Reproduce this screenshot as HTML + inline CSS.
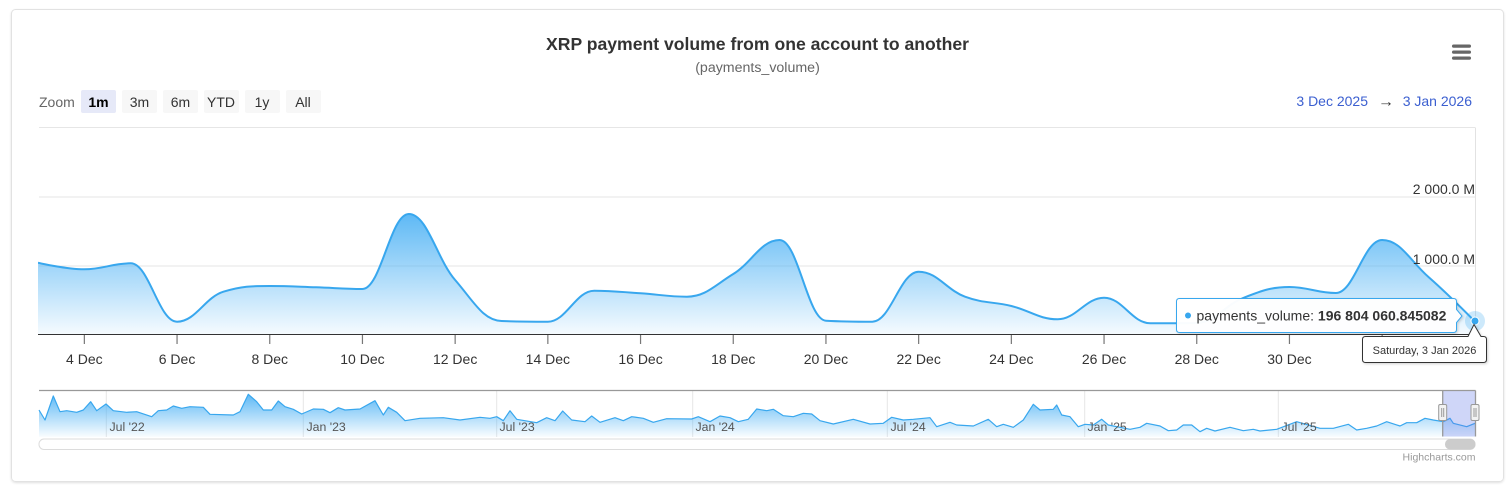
<!DOCTYPE html>
<html><head><meta charset="utf-8"><style>
html,body{margin:0;padding:0;background:#fff;width:1512px;height:493px;overflow:hidden}
svg{position:absolute;left:0;top:0;font-family:"Liberation Sans",Arial,sans-serif}
</style></head><body>
<svg width="1512" height="493" viewBox="0 0 1512 493" xmlns="http://www.w3.org/2000/svg">
<defs>
<linearGradient id="g1" x1="0" y1="0" x2="0" y2="1">
<stop offset="0" stop-color="#4cb1f4" stop-opacity="0.9"/>
<stop offset="1" stop-color="#4cb1f4" stop-opacity="0.05"/>
</linearGradient>
<linearGradient id="g2" x1="0" y1="0" x2="0" y2="1">
<stop offset="0" stop-color="#4cb1f4" stop-opacity="0.9"/>
<stop offset="1" stop-color="#4cb1f4" stop-opacity="0.03"/>
</linearGradient>
<filter id="sh" x="-10%" y="-30%" width="120%" height="170%"><feDropShadow dx="1" dy="1" stdDeviation="1.2" flood-color="#000" flood-opacity="0.18"/></filter>
<filter id="cs" x="-2%" y="-2%" width="104%" height="104%"><feDropShadow dx="0" dy="1" stdDeviation="1" flood-color="#000" flood-opacity="0.12"/></filter>
<clipPath id="pc"><rect x="38" y="120" width="1437.5" height="215"/></clipPath>
</defs>

<!-- card -->
<rect x="11.5" y="9.5" width="1492" height="472" rx="4" fill="#fff" stroke="#e2e2e2" filter="url(#cs)"/>

<!-- title -->
<text x="757.5" y="50" text-anchor="middle" font-size="17.6" font-weight="bold" fill="#333">XRP payment volume from one account to another</text>
<text x="757.5" y="72" text-anchor="middle" font-size="14.2" fill="#666">(payments_volume)</text>

<!-- menu -->
<rect x="1452" y="44.5" width="19" height="3.2" rx="1.6" fill="#666"/>
<rect x="1452" y="50.5" width="19" height="3.2" rx="1.6" fill="#666"/>
<rect x="1452" y="56.5" width="19" height="3.2" rx="1.6" fill="#666"/>

<!-- range selector -->
<text x="39" y="107" font-size="14" fill="#666">Zoom</text>
<rect x="81" y="90" width="35" height="23" rx="2" fill="#e6e9f8"/>
<text x="98.5" y="107" text-anchor="middle" font-size="14" font-weight="bold" fill="#000">1m</text>
<rect x="122" y="90" width="35" height="23" rx="2" fill="#f7f7f7"/>
<text x="139.5" y="107" text-anchor="middle" font-size="14" fill="#333">3m</text>
<rect x="163" y="90" width="35" height="23" rx="2" fill="#f7f7f7"/>
<text x="180.5" y="107" text-anchor="middle" font-size="14" fill="#333">6m</text>
<rect x="204" y="90" width="35" height="23" rx="2" fill="#f7f7f7"/>
<text x="221" y="107" text-anchor="middle" font-size="14" fill="#333">YTD</text>
<rect x="245" y="90" width="35" height="23" rx="2" fill="#f7f7f7"/>
<text x="262" y="107" text-anchor="middle" font-size="14" fill="#333">1y</text>
<rect x="286" y="90" width="35" height="23" rx="2" fill="#f7f7f7"/>
<text x="303" y="107" text-anchor="middle" font-size="14" fill="#333">All</text>

<text x="1368" y="106" text-anchor="end" font-size="14" fill="#3b5fd0">3 Dec 2025</text>
<text x="1386" y="106.5" text-anchor="middle" font-size="16" fill="#333">→</text>
<text x="1472" y="106" text-anchor="end" font-size="14" fill="#3b5fd0">3 Jan 2026</text>

<!-- plot frame & grid -->
<line x1="39" y1="127.5" x2="1475" y2="127.5" stroke="#e6e6e6"/>
<line x1="1475.5" y1="127.5" x2="1475.5" y2="334" stroke="#e2e2e2"/>
<line x1="39" y1="197" x2="1475" y2="197" stroke="#e6e6e6"/>
<line x1="39" y1="266" x2="1475" y2="266" stroke="#e6e6e6"/>

<!-- series -->
<g clip-path="url(#pc)">
<path fill="url(#g1)" d="M38 262.7 C38 262.7 65.81 269.3 84.35 269.3 C102.89 269.3 112.16 263.3 130.7 263.3 C149.24 263.3 158.51 321.7 177.05 321.7 C195.59 321.7 204.86 297.4 223.4 291.7 C241.94 286 251.21 286 269.75 286 C288.29 286 297.56 286.7 316.1 287.3 C334.64 287.9 343.91 289 362.45 289 C380.99 289 390.26 214 408.8 214 C427.34 214 436.61 258.6 455.15 280 C473.69 301.4 482.96 320.3 501.5 321 C520.04 321.7 529.31 321.7 547.85 321.7 C566.39 321.7 575.66 290.7 594.2 290.7 C612.74 290.7 622.01 292.1 640.55 293.3 C659.09 294.5 668.36 296.7 686.9 296.7 C705.44 296.7 714.71 285.34 733.25 274 C751.79 262.66 761.06 240 779.6 240 C798.14 240 807.41 319.7 825.95 320.7 C844.49 321.7 853.76 321.7 872.3 321.7 C890.84 321.7 900.11 271.7 918.65 271.7 C937.19 271.7 946.46 289.84 965 296.7 C983.54 303.56 992.81 301.48 1011.35 306 C1029.89 310.52 1039.16 319.3 1057.7 319.3 C1076.24 319.3 1085.51 297.7 1104.05 297.7 C1122.59 297.7 1131.86 323.3 1150.4 323.3 C1168.94 323.3 1178.21 323.3 1196.75 323 C1215.29 322.7 1224.56 305.2 1243.1 298 C1261.64 290.8 1270.91 287 1289.45 287 C1307.99 287 1317.26 293 1335.8 293 C1354.34 293 1363.61 240 1382.15 240 C1400.69 240 1409.96 260.72 1428.5 277 C1447.04 293.28 1474.85 321.4 1474.85 321.4 L1474.85 335 L38 335 Z"/>
<path fill="none" stroke="#38a7ee" stroke-width="2" stroke-linejoin="round" d="M38 262.7 C38 262.7 65.81 269.3 84.35 269.3 C102.89 269.3 112.16 263.3 130.7 263.3 C149.24 263.3 158.51 321.7 177.05 321.7 C195.59 321.7 204.86 297.4 223.4 291.7 C241.94 286 251.21 286 269.75 286 C288.29 286 297.56 286.7 316.1 287.3 C334.64 287.9 343.91 289 362.45 289 C380.99 289 390.26 214 408.8 214 C427.34 214 436.61 258.6 455.15 280 C473.69 301.4 482.96 320.3 501.5 321 C520.04 321.7 529.31 321.7 547.85 321.7 C566.39 321.7 575.66 290.7 594.2 290.7 C612.74 290.7 622.01 292.1 640.55 293.3 C659.09 294.5 668.36 296.7 686.9 296.7 C705.44 296.7 714.71 285.34 733.25 274 C751.79 262.66 761.06 240 779.6 240 C798.14 240 807.41 319.7 825.95 320.7 C844.49 321.7 853.76 321.7 872.3 321.7 C890.84 321.7 900.11 271.7 918.65 271.7 C937.19 271.7 946.46 289.84 965 296.7 C983.54 303.56 992.81 301.48 1011.35 306 C1029.89 310.52 1039.16 319.3 1057.7 319.3 C1076.24 319.3 1085.51 297.7 1104.05 297.7 C1122.59 297.7 1131.86 323.3 1150.4 323.3 C1168.94 323.3 1178.21 323.3 1196.75 323 C1215.29 322.7 1224.56 305.2 1243.1 298 C1261.64 290.8 1270.91 287 1289.45 287 C1307.99 287 1317.26 293 1335.8 293 C1354.34 293 1363.61 240 1382.15 240 C1400.69 240 1409.96 260.72 1428.5 277 C1447.04 293.28 1474.85 321.4 1474.85 321.4"/>
</g>

<!-- y labels -->
<text x="1475" y="194" text-anchor="end" font-size="14" fill="#333">2 000.0 M</text>
<text x="1475" y="264" text-anchor="end" font-size="14" fill="#333">1 000.0 M</text>

<!-- x axis -->
<line x1="38" y1="334.5" x2="1475" y2="334.5" stroke="#333"/>
<g stroke="#777" stroke-width="1.2">
<line x1="84.35" y1="335" x2="84.35" y2="344"/><line x1="177.05" y1="335" x2="177.05" y2="344"/>
<line x1="269.75" y1="335" x2="269.75" y2="344"/><line x1="362.45" y1="335" x2="362.45" y2="344"/>
<line x1="455.15" y1="335" x2="455.15" y2="344"/><line x1="547.85" y1="335" x2="547.85" y2="344"/>
<line x1="640.55" y1="335" x2="640.55" y2="344"/><line x1="733.25" y1="335" x2="733.25" y2="344"/>
<line x1="825.95" y1="335" x2="825.95" y2="344"/><line x1="918.65" y1="335" x2="918.65" y2="344"/>
<line x1="1011.35" y1="335" x2="1011.35" y2="344"/><line x1="1104.05" y1="335" x2="1104.05" y2="344"/>
<line x1="1196.75" y1="335" x2="1196.75" y2="344"/><line x1="1289.45" y1="335" x2="1289.45" y2="344"/>
<line x1="1382.15" y1="335" x2="1382.15" y2="344"/>
</g>
<g font-size="14" fill="#333" text-anchor="middle">
<text x="84.35" y="364">4 Dec</text><text x="177.05" y="364">6 Dec</text><text x="269.75" y="364">8 Dec</text>
<text x="362.45" y="364">10 Dec</text><text x="455.15" y="364">12 Dec</text><text x="547.85" y="364">14 Dec</text>
<text x="640.55" y="364">16 Dec</text><text x="733.25" y="364">18 Dec</text><text x="825.95" y="364">20 Dec</text>
<text x="918.65" y="364">22 Dec</text><text x="1011.35" y="364">24 Dec</text><text x="1104.05" y="364">26 Dec</text>
<text x="1196.75" y="364">28 Dec</text><text x="1289.45" y="364">30 Dec</text>
</g>

<!-- navigator -->
<g stroke="#e6e6e6">
<line x1="106.3" y1="390" x2="106.3" y2="437"/><line x1="303.3" y1="390" x2="303.3" y2="437"/>
<line x1="496.7" y1="390" x2="496.7" y2="437"/><line x1="692.7" y1="390" x2="692.7" y2="437"/>
<line x1="887.3" y1="390" x2="887.3" y2="437"/><line x1="1084.7" y1="390" x2="1084.7" y2="437"/>
<line x1="1278.3" y1="390" x2="1278.3" y2="437"/>
</g>
<path fill="url(#g2)" d="M39 437 L39,410 45,420 53.3,396 60,411.7 66.7,410.7 76.7,412.3 83.3,410 90.7,401.7 96.7,410.7 106,404 113.3,410.7 126.7,412.3 136.7,411.7 151.7,416.7 158.3,410.7 166.7,410 173.3,406 181.7,408.3 190,406.7 203.3,407.3 210,414.3 233.3,415 240,411.7 248.3,394.3 256.7,401.7 263.3,410 271.7,410 278.3,401 285,406.7 293.3,409.3 301.7,414 313.3,409 323.3,409.3 330,412.7 338.3,407.7 345,410 360,409 375,400.7 383.3,415 388.3,407.3 396.7,412.3 405,420.7 420,418.3 443.3,417.7 460,420 480,417.3 490,418.3 496.7,416.7 503.3,420.7 510,410.7 516.7,419.3 536.7,422.7 546.7,417.7 555,420.7 562.7,411 571.7,420 585,421.7 591.7,416 600,422.3 615,417.7 623.3,420.7 631.7,416.7 643.3,418.3 653.3,422.3 666.7,418.7 691.7,419 698.3,416.7 710,421.7 720,416 730,417.7 738.3,421.7 748.3,419.3 756.7,409 766.7,410.7 773.3,409.3 783.3,415.7 793.3,416.7 803.3,413.3 811.7,414 820,420.7 833.3,424 853.3,419.3 870,424 883.3,423.3 891.7,417.3 903.3,420 913.3,419.3 930,417.7 936.7,426.7 950,422.3 956.7,425 973.3,426 988.3,419.3 996.7,426.7 1003.3,424.3 1013.3,427.3 1023.3,420 1033.3,404.3 1040,410 1053.3,409.3 1056.7,405 1061.7,415 1070,416.7 1078.3,426.7 1085,424.3 1093.3,425 1101.7,419.3 1108.3,425 1130,429.3 1140,427.3 1146.7,423.3 1160,426 1168.3,430.7 1176.7,430 1183.3,425 1191.7,425 1200,431.7 1206.7,428.3 1215,431 1230,427.3 1243.3,430.7 1253.3,429.3 1260,431 1276.7,429.3 1296.7,421.7 1320,428.3 1333.3,428.3 1348.3,424.3 1356.7,430 1366.7,428.3 1376.7,426 1386.7,421.7 1400,426 1406.7,422.7 1416.7,422.7 1425,418.3 1433.3,420 1443.3,421.7 1450,418.3 1453.3,423.3 1466.7,426.7 1475,423.3 L1475 437 Z"/>
<path fill="none" stroke="#38a7ee" stroke-width="1.2" stroke-linejoin="round" d="M39,410 45,420 53.3,396 60,411.7 66.7,410.7 76.7,412.3 83.3,410 90.7,401.7 96.7,410.7 106,404 113.3,410.7 126.7,412.3 136.7,411.7 151.7,416.7 158.3,410.7 166.7,410 173.3,406 181.7,408.3 190,406.7 203.3,407.3 210,414.3 233.3,415 240,411.7 248.3,394.3 256.7,401.7 263.3,410 271.7,410 278.3,401 285,406.7 293.3,409.3 301.7,414 313.3,409 323.3,409.3 330,412.7 338.3,407.7 345,410 360,409 375,400.7 383.3,415 388.3,407.3 396.7,412.3 405,420.7 420,418.3 443.3,417.7 460,420 480,417.3 490,418.3 496.7,416.7 503.3,420.7 510,410.7 516.7,419.3 536.7,422.7 546.7,417.7 555,420.7 562.7,411 571.7,420 585,421.7 591.7,416 600,422.3 615,417.7 623.3,420.7 631.7,416.7 643.3,418.3 653.3,422.3 666.7,418.7 691.7,419 698.3,416.7 710,421.7 720,416 730,417.7 738.3,421.7 748.3,419.3 756.7,409 766.7,410.7 773.3,409.3 783.3,415.7 793.3,416.7 803.3,413.3 811.7,414 820,420.7 833.3,424 853.3,419.3 870,424 883.3,423.3 891.7,417.3 903.3,420 913.3,419.3 930,417.7 936.7,426.7 950,422.3 956.7,425 973.3,426 988.3,419.3 996.7,426.7 1003.3,424.3 1013.3,427.3 1023.3,420 1033.3,404.3 1040,410 1053.3,409.3 1056.7,405 1061.7,415 1070,416.7 1078.3,426.7 1085,424.3 1093.3,425 1101.7,419.3 1108.3,425 1130,429.3 1140,427.3 1146.7,423.3 1160,426 1168.3,430.7 1176.7,430 1183.3,425 1191.7,425 1200,431.7 1206.7,428.3 1215,431 1230,427.3 1243.3,430.7 1253.3,429.3 1260,431 1276.7,429.3 1296.7,421.7 1320,428.3 1333.3,428.3 1348.3,424.3 1356.7,430 1366.7,428.3 1376.7,426 1386.7,421.7 1400,426 1406.7,422.7 1416.7,422.7 1425,418.3 1433.3,420 1443.3,421.7 1450,418.3 1453.3,423.3 1466.7,426.7 1475,423.3"/>
<g font-size="12.3" fill="#555">
<text x="109.5" y="431">Jul '22</text><text x="306.5" y="431">Jan '23</text><text x="499.5" y="431">Jul '23</text>
<text x="695.5" y="431">Jan '24</text><text x="890.5" y="431">Jul '24</text><text x="1087.5" y="431">Jan '25</text>
<text x="1281.5" y="431">Jul '25</text>
</g>
<!-- mask -->
<rect x="1442.7" y="390" width="32.3" height="46.5" fill="#6a7fe8" fill-opacity="0.32"/>
<path d="M39 390.5 L1475.5 390.5 M1442.7 390.5 L1442.7 436.5 M1475.5 390.5 L1475.5 436.5" stroke="#999" stroke-width="1.3" fill="none"/>
<!-- handles -->
<rect x="1438.7" y="404.5" width="8" height="16" rx="1.5" fill="#f2f2f2" stroke="#999"/>
<line x1="1441.7" y1="408" x2="1441.7" y2="417" stroke="#999"/><line x1="1443.7" y1="408" x2="1443.7" y2="417" stroke="#999"/>
<rect x="1471" y="404.5" width="8" height="16" rx="1.5" fill="#f2f2f2" stroke="#999"/>
<line x1="1474" y1="408" x2="1474" y2="417" stroke="#999"/><line x1="1476" y1="408" x2="1476" y2="417" stroke="#999"/>
<!-- scrollbar -->
<rect x="39" y="439" width="1436" height="10.5" rx="5" fill="#fff" stroke="#dcdcdc"/>
<rect x="1445" y="439" width="30.5" height="10.5" rx="5" fill="#cccccc"/>
<text x="1475.5" y="460.5" text-anchor="end" font-size="10.5" fill="#999">Highcharts.com</text>

<!-- point marker -->
<circle cx="1475" cy="321" r="10" fill="#38a7ee" fill-opacity="0.25"/>
<circle cx="1475" cy="321" r="4" fill="#38a7ee" stroke="#fff" stroke-width="1"/>

<!-- tooltip 1 -->
<path filter="url(#sh)" fill="#fff" fill-opacity="0.97" stroke="#38a7ee" stroke-width="1" d="M1179.5,298.5 L1453.5,298.5 Q1456.5,298.5 1456.5,301.5 L1456.5,309.5 L1462,316 L1456.5,322.5 L1456.5,329.5 Q1456.5,332.5 1453.5,332.5 L1179.5,332.5 Q1176.5,332.5 1176.5,329.5 L1176.5,301.5 Q1176.5,298.5 1179.5,298.5 Z"/>
<circle cx="1188" cy="315.5" r="3" fill="#38a7ee"/>
<text x="1196.5" y="320.5" font-size="14" fill="#333">payments_volume: <tspan font-weight="bold">196 804 060.845082</tspan></text>

<!-- tooltip 2 -->
<path filter="url(#sh)" fill="#fff" stroke="#333" stroke-width="1" d="M1365.5,336.5 L1468,336.5 L1474,324.5 L1481,336.5 L1483.5,336.5 Q1486.5,336.5 1486.5,339.5 L1486.5,359.5 Q1486.5,362.5 1483.5,362.5 L1365.5,362.5 Q1362.5,362.5 1362.5,359.5 L1362.5,339.5 Q1362.5,336.5 1365.5,336.5 Z"/>
<text x="1424.5" y="354" text-anchor="middle" font-size="11" fill="#333">Saturday, 3 Jan 2026</text>
</svg>
</body></html>
